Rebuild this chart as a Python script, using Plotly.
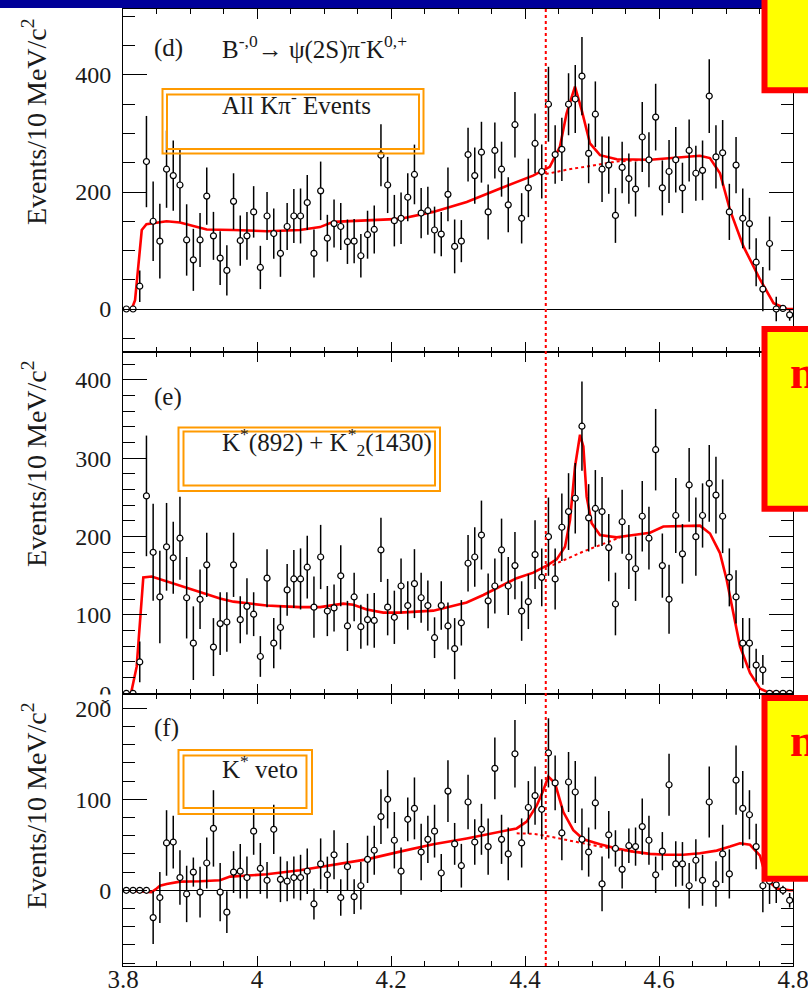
import plotly.graph_objects as go

# ---------------- data ----------------
bin_centers = [round(3.805 + 0.01 * i, 3) for i in range(100)]

d_vals = [0, 0, 39, 252, 150, 116, 239, 228, 212, 118,
          84, 118, 193, 125, 87, 66, 184, 117, 125, 166,
          71, 159, 129, 95, 141, 159, 159, 182, 95, 202,
          121, 146, 141, 115, 116, 91, 127, 136, 263, 212,
          151, 155, 191, 230, 164, 168, 135, 128, 196, 107,
          116, 264, 228, 268, 166, 271, 239, 178, 315, 155,
          207, 283, 235, 350, 264, 273, 350, 359, 398, 266,
          333, 239, 246, 160, 242, 223, 205, 294, 255, 328,
          207, 235, 255, 207, 271, 232, 237, 364, 260, 267,
          166, 246, 155, 146, 80, 34, 112, 0, 1, -10]
d_err = [0, 0, 27, 78, 68, 64, 66, 60, 63, 61,
         53, 46, 49, 41, 46, 43, 48, 43, 41, 44,
         37, 41, 43, 40, 40, 46, 47, 47, 41, 50,
         40, 41, 40, 38, 38, 37, 41, 41, 53, 48,
         44, 44, 41, 51, 43, 41, 40, 38, 46, 46,
         36, 46, 48, 52, 47, 48, 47, 47, 56, 43,
         50, 51, 46, 64, 50, 54, 53, 58, 67, 51,
         56, 56, 49, 47, 44, 43, 47, 60, 47, 57,
         47, 54, 56, 43, 53, 47, 51, 63, 54, 56,
         48, 48, 51, 44, 41, 38, 46, 21, 5, 10]

e_vals = [0, 0, 40, 252, 180, 123, 187, 173, 198, 122,
          64, 120, 164, 59, 89, 91, 164, 94, 111, 101,
          47, 147, 64, 84, 132, 146, 146, 161, 110, 174,
          105, 109, 150, 86, 123, 85, 94, 93, 183, 110,
          97, 137, 112, 140, 122, 112, 71, 112, 86, 57,
          90, 166, 174, 202, 118, 137, 183, 137, 163, 105,
          117, 177, 148, 200, 146, 212, 232, 249, 341, 224,
          236, 232, 186, 114, 219, 174, 159, 226, 198, 311,
          163, 120, 227, 178, 266, 200, 227, 268, 253, 226,
          148, 123, 64, 64, 36, 30, 0, 0, 0, 0]
e_err = [0, 0, 26, 77, 62, 59, 56, 46, 53, 52,
         47, 38, 41, 37, 40, 38, 41, 30, 36, 28,
         26, 37, 32, 28, 33, 37, 39, 40, 39, 41,
         32, 30, 39, 32, 31, 28, 33, 35, 41, 36,
         34, 35, 31, 44, 32, 32, 26, 31, 30, 39,
         29, 36, 38, 44, 35, 35, 40, 37, 43, 38,
         35, 44, 37, 50, 39, 43, 49, 45, 57, 43,
         49, 44, 43, 40, 41, 41, 41, 45, 40, 52,
         41, 44, 48, 38, 47, 50, 41, 49, 49, 47,
         37, 34, 32, 32, 21, 19, 0, 0, 0, 0]

f_vals = [0, 0, 0, 0, -30, -8, 52, 53, 14, -4,
          20, -2, 30, 68, -2, -24, 20, 21, 14, 65,
          24, 11, 67, 12, 10, 14, 14, 21, -15, 29,
          17, 39, -8, 26, -7, 5, 34, 44, 81, 100,
          55, 21, 78, 90, 42, 56, 65, 19, 109, 51,
          27, 97, 53, 67, 48, 134, 56, 40, 150, 52,
          91, 104, 89, 151, 118, 63, 119, 108, 56, 42,
          96, 7, 61, 46, 23, 49, 48, 70, 55, 17,
          43, 116, 29, 29, 5, 33, 11, 97, 7, 40,
          18, 121, 90, 83, 48, 5, 10, 6, 0, -11]
f_err = [0, 0, 0, 0, 29, 28, 36, 29, 30, 31,
         16, 28, 28, 42, 32, 23, 23, 30, 23, 26,
         28, 20, 27, 25, 22, 23, 25, 25, 17, 28,
         20, 27, 20, 26, 19, 26, 26, 27, 30, 32,
         31, 26, 24, 34, 31, 26, 29, 21, 34, 23,
         24, 30, 25, 28, 31, 34, 27, 29, 37, 27,
         29, 32, 33, 38, 30, 30, 33, 34, 34, 27,
         29, 30, 26, 20, 21, 19, 21, 31, 27, 20,
         21, 34, 25, 24, 25, 23, 28, 39, 25, 32,
         27, 38, 41, 27, 25, 29, 25, 20, 5, 8]

# fit curves (total) and background (dotted)
d_fit_x = [3.800, 3.813, 3.818, 3.823, 3.828, 3.835, 3.865, 3.885, 3.905, 3.925,
           3.965, 4.015, 4.064, 4.094, 4.114, 4.164, 4.213, 4.263, 4.313, 4.363,
           4.412, 4.437, 4.452, 4.462, 4.4746, 4.4846, 4.497, 4.512, 4.537, 4.587,
           4.636, 4.661, 4.676, 4.691, 4.706, 4.726, 4.751, 4.771, 4.791, 4.800]
d_fit_y = [0, 0, 15, 72, 135, 145, 150, 148, 142, 136,
           135, 133, 135, 140, 149, 151, 154, 166, 183, 206,
           228, 243, 277, 334, 380, 340, 283, 263, 256, 255,
           260, 262, 258, 232, 169, 107, 50, 10, 0, 0]
d_bkg_x = [4.422, 4.437, 4.462, 4.487, 4.512, 4.537, 4.562, 4.587]
d_bkg_y = [230, 232, 238, 243, 247, 252, 254, 255]

e_fit_x = [3.800, 3.812, 3.8204, 3.8254, 3.8303, 3.8428, 3.8652, 3.8851, 3.9149, 3.9448,
           3.9647, 3.9945, 4.0145, 4.0393, 4.0642, 4.0940, 4.1139, 4.1289, 4.1438, 4.1637,
           4.1885, 4.2134, 4.2632, 4.3129, 4.3378, 4.3627, 4.3876, 4.4124, 4.4323, 4.4473,
           4.4597, 4.4672, 4.4746, 4.4821, 4.4871, 4.4920, 4.4995, 4.5119, 4.5368, 4.5617,
           4.5866, 4.6065, 4.6363, 4.6612, 4.6761, 4.6910, 4.7010, 4.7109, 4.7209, 4.7358,
           4.7507, 4.7607, 4.7955, 4.800]
e_fit_y = [0, 0, 34, 94, 148, 149, 143, 137, 129, 121,
           117, 114, 112, 111, 110, 110, 113, 114.5, 113, 107,
           103, 103, 105.5, 116, 125.5, 136, 147, 154, 163, 171,
           187, 221, 289, 330, 315, 251, 217, 202, 199, 202,
           205, 213, 214, 214, 204, 179, 145, 102, 60, 26,
           6, 2, 0, 0]
e_bkg_x = [4.4323, 4.4423, 4.4871, 4.5268, 4.5418]
e_bkg_y = [163, 164, 181, 194, 199]

f_fit_x = [3.800, 3.8254, 3.8428, 3.8503, 3.8552, 3.8652, 3.8851, 3.9149, 3.9448, 3.9597,
           3.9896, 4.0145, 4.0642, 4.1139, 4.1637, 4.2134, 4.2632, 4.3129, 4.3627, 4.3876,
           4.4025, 4.4174, 4.4274, 4.4348, 4.4448, 4.4572, 4.4721, 4.4871, 4.5119, 4.5368,
           4.5617, 4.5866, 4.6114, 4.6363, 4.6612, 4.6861, 4.7060, 4.7209, 4.7358, 4.7507,
           4.7607, 4.7756, 4.7955, 4.800]
f_fit_y = [0, -1.5, -2, 2, 5, 7, 9.5, 10, 11, 15,
           16, 17.6, 22, 28, 34, 42.5, 50.5, 57, 64.5, 68,
           75.5, 93, 110, 125, 117.6, 86, 66, 56, 50.5, 46,
           42.5, 40, 39, 39, 40.7, 43.6, 48, 51.6, 50, 38,
           12, 2, 0, 0]
f_bkg_x = [4.3876, 4.4124, 4.4373, 4.4622, 4.4871, 4.5119, 4.5617]
f_bkg_y = [62.6, 62, 59, 55, 51.6, 48, 42.5]

x_tick_vals = [3.8, 4.0, 4.2, 4.4, 4.6, 4.8]
x_tick_text = ["3.8", "4", "4.2", "4.4", "4.6", "4.8"]
marker_line_x = 4.431

# ---------------- geometry helpers ----------------
W, H = 808, 993
L, R, T, B = 123, 793, 9, 966


def px(x):
    return (x - L) / (R - L)


def py(y):
    return (B - y) / (B - T)


FONT = "Liberation Serif"
TXT = "#1a1a1a"

fig = go.Figure()

panels = [
    ("", "y", d_vals, d_err, d_fit_x, d_fit_y, d_bkg_x, d_bkg_y),
    ("2", "y2", e_vals, e_err, e_fit_x, e_fit_y, e_bkg_x, e_bkg_y),
    ("3", "y3", f_vals, f_err, f_fit_x, f_fit_y, f_bkg_x, f_bkg_y),
]
for suf, yref, vals, errs, fx, fy, bx, by in panels:
    xa = "x" + suf
    fig.add_trace(go.Scatter(x=bx, y=by, mode="lines", xaxis=xa, yaxis=yref,
                             line=dict(color="#ff0000", width=2, dash="dot"),
                             showlegend=False, hoverinfo="skip"))
    fig.add_trace(go.Scatter(x=fx, y=fy, mode="lines", xaxis=xa, yaxis=yref,
                             line=dict(color="#ff0000", width=2.6),
                             showlegend=False, hoverinfo="skip"))
    fig.add_trace(go.Scatter(x=bin_centers, y=vals, mode="markers", xaxis=xa, yaxis=yref,
                             marker=dict(symbol="circle", size=6, color="white",
                                         line=dict(color="black", width=1.2)),
                             error_y=dict(type="data", array=errs, visible=True,
                                          thickness=1.5, width=0, color="black"),
                             showlegend=False))

# axis domains (paper fractions)
dom_d = [py(352), 1.0]
dom_e = [py(694), py(352)]
dom_f = [0.0, py(694)]

common_x = dict(range=[3.8, 4.8], showline=True, linecolor="black", linewidth=1,
                mirror="allticks", ticks="inside", ticklen=10, tickwidth=1, tickcolor="black",
                tickmode="array", tickvals=x_tick_vals, ticktext=x_tick_text,
                showgrid=False, zeroline=False, automargin=False,
                ticklabeloverflow="allow", ticklabelstandoff=-9,
                minor=dict(ticks="inside", ticklen=5, dtick=0.05, tick0=3.8,
                           tickcolor="black", tickwidth=1, showgrid=False),
                tickfont=dict(family=FONT, size=25, color=TXT))


def yax(rng, dtick, mdtick, dom, zl=True):
    return dict(range=rng, domain=dom, showline=True, linecolor="black", linewidth=1,
                mirror="allticks", ticks="inside", ticklen=24, tickwidth=1, tickcolor="black",
                dtick=dtick, tick0=0, showgrid=False, automargin=False,
                ticklabeloverflow="allow",
                zeroline=zl, zerolinecolor="black", zerolinewidth=1,
                minor=dict(ticks="inside", ticklen=12, dtick=mdtick, tick0=0,
                           tickcolor="black", tickwidth=1, showgrid=False),
                tickfont=dict(family=FONT, size=24, color=TXT),
                ticklabelstandoff=6)


fig.update_layout(
    width=W, height=H,
    margin=dict(l=L, r=W - R, t=T, b=H - B, pad=0, autoexpand=False),
    paper_bgcolor="white", plot_bgcolor="white",
    xaxis=dict(common_x, anchor="y", showticklabels=False),
    xaxis2=dict(common_x, anchor="y2", showticklabels=False),
    xaxis3=dict(common_x, anchor="y3", showticklabels=True),
    yaxis=yax([-73.5, 512.8], 200, 50, dom_d),
    yaxis2=yax([-0.9, 435.7], 100, 20, dom_e, zl=False),
    yaxis3=yax([-83.2, 215.7], 100, 20, dom_f),
)

shapes = []
# vertical dotted marker line
shapes.append(dict(type="line", xref="x3", yref="paper", x0=marker_line_x, x1=marker_line_x,
                   y0=0, y1=1, line=dict(color="#ff0000", width=2, dash="dot")))
# hide lower half of panel (e) "0" label
shapes.append(dict(type="rect", xref="paper", yref="paper", x0=px(60), x1=px(121),
                   y0=py(700), y1=py(694.5), fillcolor="white", line=dict(width=0)))
# blue title bar
shapes.append(dict(type="rect", xref="paper", yref="paper", x0=px(-10), x1=px(765),
                   y0=py(8), y1=py(-10), fillcolor="#000099", line=dict(width=0)))
# orange double boxes
for (ox0, ox1, oy0, oy1), (ix0, ix1, iy0, iy1) in [
    ((162.5, 423.5, 89, 153.5), (167, 419, 94.5, 149)),
    ((178.5, 440, 427.5, 491), (183.5, 435, 431.5, 485.5)),
    ((178.5, 312, 750, 814), (183.5, 306.5, 755.5, 808)),
]:
    for x0, x1, y0, y1 in [(ox0, ox1, oy0, oy1), (ix0, ix1, iy0, iy1)]:
        shapes.append(dict(type="rect", xref="paper", yref="paper",
                           x0=px(x0), x1=px(x1), y0=py(y1), y1=py(y0),
                           line=dict(color="#ff9a00", width=2), fillcolor="rgba(0,0,0,0)"))
# yellow boxes with red border
for y0, y1 in [(-20, 90.3), (329, 508.7), (698, 878.7)]:
    shapes.append(dict(type="rect", xref="paper", yref="paper",
                       x0=px(764.5), x1=px(860), y0=py(y1), y1=py(y0),
                       fillcolor="#ffff00", line=dict(color="#ff0000", width=6)))
fig.update_layout(shapes=shapes)

ann = []


def add_text(text, x, y, size, xanchor="left", color=TXT, angle=0, bold=False):
    if bold:
        text = "<b>" + text + "</b>"
    ann.append(dict(text=text, x=px(x), y=py(y), xref="paper", yref="paper",
                    xanchor=xanchor, yanchor="middle", showarrow=False, textangle=angle,
                    font=dict(family=FONT, size=size, color=color)))


ytitle = "Events/10 MeV/c<sup>2</sup>"
add_text(ytitle, 34, 121, 28, xanchor="center", angle=-90)
add_text(ytitle, 34, 463, 28, xanchor="center", angle=-90)
add_text(ytitle, 34, 805, 28, xanchor="center", angle=-90)

add_text("(d)", 152, 48, 25)
add_text("B<sup>-,0</sup>→ ψ(2S)π<sup>-</sup>K<sup>0,+</sup>", 220, 48, 25)
add_text("(e)", 152, 397, 25)
add_text("(f)", 152, 728, 25)

add_text("All Kπ<sup>-</sup> Events", 220, 103, 25)
add_text("K<sup>*</sup>(892) + K<sup>*</sup><sub>2</sub>(1430)", 220, 442, 25)
add_text("K<sup>*</sup> veto", 220, 767, 25)

add_text("n", 788, 372, 46, color="#ff0000", bold=True)
add_text("n", 788, 740, 46, color="#ff0000", bold=True)

fig.update_layout(annotations=ann)

fig.write_html("out.html")
